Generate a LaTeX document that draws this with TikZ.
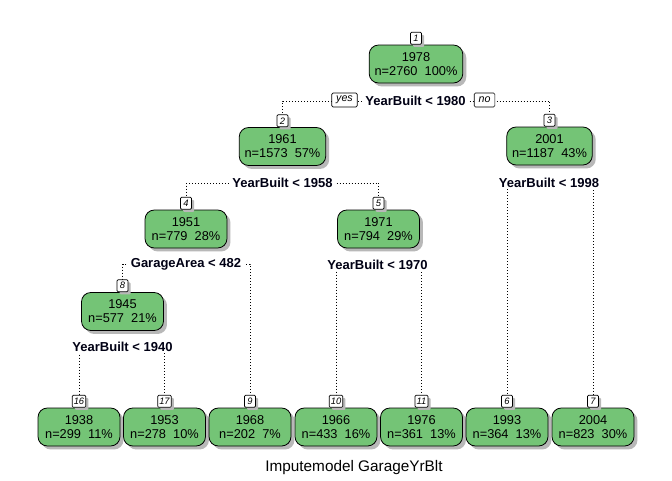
\documentclass[tikz,border=0pt]{standalone}
\usepackage{fontspec}
\setmainfont{Liberation Sans}
\usetikzlibrary{shadows,calc}
\pgfdeclarelayer{bg}
\pgfsetlayers{bg,main}
\definecolor{boxgreen}{HTML}{74C476}
\tikzset{
  treenode/.style={draw=black, fill=boxgreen, rounded corners=7pt,
    minimum width=61.5pt, minimum height=28.5pt, inner xsep=4pt, inner ysep=1pt,
    align=center, font=\fontsize{9.6}{10.5}\selectfont, line width=0.6pt,
    drop shadow={shadow xshift=2.6pt, shadow yshift=-2.6pt, fill=black!28, opacity=1}},
  numbox/.style={draw=black, fill=white, minimum width=8.25pt, minimum height=9pt,
    inner xsep=1.2pt, inner ysep=0.5pt, font=\fontsize{7}{7}\selectfont\itshape,
    line width=0.5pt, rounded corners=0.8pt, anchor=south,
    drop shadow={shadow xshift=2pt, shadow yshift=-2pt, fill=black!28, opacity=1}},
  splitlabel/.style={fill=white, inner xsep=2pt, inner ysep=1.2pt,
    font=\fontsize{9.75}{10}\selectfont\bfseries, text=black!92!blue},
  yesno/.style={draw=black, fill=white, rounded corners=1pt, line width=0.5pt,
    font=\fontsize{8}{8}\selectfont\itshape, inner xsep=3.3pt, inner ysep=0pt,
    minimum height=10.5pt},
  conn/.style={line width=0.6pt, dash pattern=on 0.75pt off 1.5pt},
  titlelabel/.style={font=\fontsize{11.5}{12}\selectfont}
}
\begin{document}
\begin{tikzpicture}[x=0.75pt, y=-0.75pt]
  \begin{pgfonlayer}{bg}
    \fill[white] (0,0) rectangle (672,480);
  \end{pgfonlayer}
  \useasboundingbox (0,0) rectangle (672,480);

  % inner nodes
  \node[treenode] (n1) at (416,64) {1978\\n=2760~~100\%};
  \node[numbox] (n1num) at (n1.north) {1};
  \node[treenode] (n2) at (282.5,146.5) {1961\\n=1573~~57\%};
  \node[numbox] (n2num) at (n2.north) {2};
  \node[treenode] (n3) at (549.5,146) {2001\\n=1187~~43\%};
  \node[numbox] (n3num) at (n3.north) {3};
  \node[treenode] (n4) at (186,229) {1951\\n=779~~28\%};
  \node[numbox] (n4num) at (n4.north) {4};
  \node[treenode] (n5) at (378.5,229) {1971\\n=794~~29\%};
  \node[numbox] (n5num) at (n5.north) {5};
  \node[treenode] (n8) at (122.5,311.5) {1945\\n=577~~21\%};
  \node[numbox] (n8num) at (n8.north) {8};

  % leaves
  \node[treenode] (n16) at (79,427) {1938\\n=299~~11\%};
  \node[numbox] (n16num) at (n16.north) {16};
  \node[treenode] (n17) at (164.5,427) {1953\\n=278~~10\%};
  \node[numbox] (n17num) at (n17.north) {17};
  \node[treenode] (n9) at (250,427) {1968\\n=202~~7\%};
  \node[numbox] (n9num) at (n9.north) {9};
  \node[treenode] (n10) at (336,427) {1966\\n=433~~16\%};
  \node[numbox] (n10num) at (n10.north) {10};
  \node[treenode] (n11) at (421.5,427) {1976\\n=361~~13\%};
  \node[numbox] (n11num) at (n11.north) {11};
  \node[treenode] (n6) at (507,427) {1993\\n=364~~13\%};
  \node[numbox] (n6num) at (n6.north) {6};
  \node[treenode] (n7) at (593,427) {2004\\n=823~~30\%};
  \node[numbox] (n7num) at (n7.north) {7};

  % split labels
  \node[splitlabel] (s1) at (415.5,101) {YearBuilt < 1980};
  \node[splitlabel] (s2) at (282.5,183) {YearBuilt < 1958};
  \node[splitlabel] (s3) at (549,183) {YearBuilt < 1998};
  \node[splitlabel] (s4) at (186,264) {GarageArea < 482};
  \node[splitlabel] (s5) at (377.5,265) {YearBuilt < 1970};
  \node[splitlabel] (s8) at (122.5,347) {YearBuilt < 1940};

  \node[yesno] (yes) at (344.5,100) {yes};
  \node[yesno] (no) at (484.5,100) {no};

  % connectors
  \begin{pgfonlayer}{bg}
    \draw[conn] (s1.center) -| (n2num.north);
    \draw[conn] (s1.center) -| (n3num.north);
    \draw[conn] (s2.center) -| (n4num.north);
    \draw[conn] (s2.center) -| (n5num.north);
    \draw[conn] (s3.center) -| (n6num.north);
    \draw[conn] (s3.center) -| (n7num.north);
    \draw[conn] (s4.center) -| (n8num.north);
    \draw[conn] (s4.center) -| (n9num.north);
    \draw[conn] (s5.center) -| (n10num.north);
    \draw[conn] (s5.center) -| (n11num.north);
    \draw[conn] (s8.center) -| (n16num.north);
    \draw[conn] (s8.center) -| (n17num.north);
  \end{pgfonlayer}

  \node[titlelabel] (title) at (354,468) {Imputemodel GarageYrBlt};
\end{tikzpicture}
\end{document}
